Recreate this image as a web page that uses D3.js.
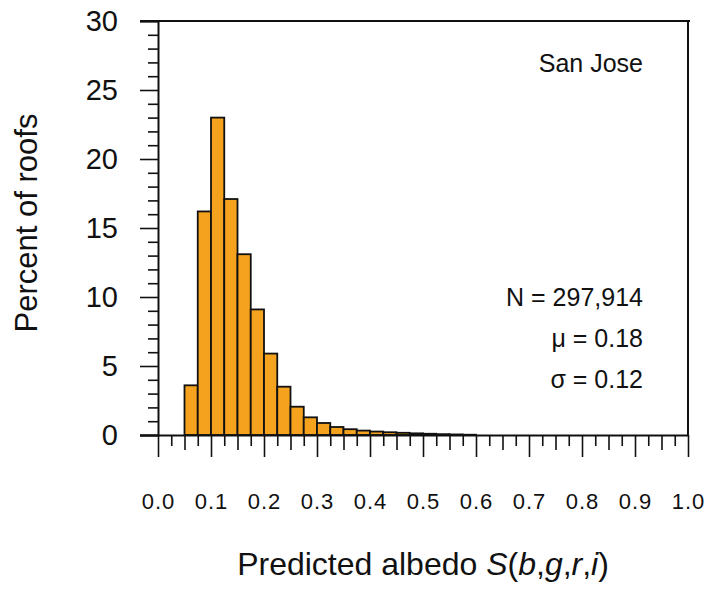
<!DOCTYPE html>
<html>
<head>
<meta charset="utf-8">
<script src="https://cdn.jsdelivr.net/npm/d3@7"></script>
<style>
  body { margin: 0; background: #fff; }
  svg text { font-family: "Liberation Sans", Arial, Helvetica, sans-serif; fill: #111; }
</style>
</head>
<body>
<div id="chart"></div>
<script>
// histogram bins (left edges) and percent of roofs in each bin, width 0.025
var binStarts = [0.05, 0.075, 0.1, 0.125, 0.15, 0.175, 0.2, 0.225, 0.25, 0.275,
  0.3, 0.325, 0.35, 0.375, 0.4, 0.425, 0.45, 0.475, 0.5, 0.525, 0.55, 0.575];
var percents = [3.6, 16.2, 23.0, 17.1, 13.1, 9.1, 5.9, 3.5, 2.05, 1.28,
  0.87, 0.58, 0.42, 0.32, 0.25, 0.2, 0.16, 0.12, 0.09, 0.06, 0.04, 0.02];
var binWidth = 0.025;

var yTickValues = [0, 5, 10, 15, 20, 25, 30];
var xTickValues = [0, 0.1, 0.2, 0.3, 0.4, 0.5, 0.6, 0.7, 0.8, 0.9, 1.0];
var statLines = ["N = 297,914", "\u03bc = 0.18", "\u03c3 = 0.12"];
var cityLabel = "San Jose";

var width = 709, height = 591;
var svg = d3.select("#chart").append("svg")
  .attr("width", width)
  .attr("height", height);

var x = d3.scaleLinear().domain([0, 1]).range([158, 688]);
var y = d3.scaleLinear().domain([0, 30]).range([435, 21]);

// bars
svg.selectAll("rect.bar")
  .data(binStarts)
  .enter().append("rect")
  .attr("class", "bar")
  .attr("x", function(d) { return x(d); })
  .attr("width", function(d) { return x(d + binWidth) - x(d); })
  .attr("y", function(d, i) { return y(percents[i]); })
  .attr("height", function(d, i) { return y(0) - y(percents[i]); })
  .attr("fill", "#f5a31f")
  .attr("stroke", "#111")
  .attr("stroke-width", 1.8);

// frame: top and right
svg.append("line").attr("x1", 140).attr("x2", x(1) + 2).attr("y1", y(30)).attr("y2", y(30))
  .attr("stroke", "#111").attr("stroke-width", 2);
svg.append("line").attr("x1", x(1)).attr("x2", x(1)).attr("y1", y(30)).attr("y2", y(0))
  .attr("stroke", "#111").attr("stroke-width", 2);

// y axis minor ticks
var yMinor = d3.range(0, 31, 1).filter(function(v) { return v % 5 !== 0; });
svg.append("g")
  .attr("transform", "translate(" + x(0) + ",0)")
  .call(d3.axisLeft(y).tickValues(yMinor).tickSize(10).tickFormat(""))
  .call(function(g) { g.select(".domain").remove(); });

// y axis major
var yAxis = svg.append("g")
  .attr("transform", "translate(" + x(0) + ",0)")
  .call(d3.axisLeft(y).tickValues(yTickValues).tickSize(18).tickPadding(22));
yAxis.selectAll("text").style("font-size", "29px").attr("fill", "#111");

// x axis minor ticks (0.025 and 0.05)
var xQuarter = d3.range(0, 41).map(function(i) { return i * 0.025; })
  .filter(function(v, i) { return i % 2 === 1; });
var xHalf = d3.range(0, 10).map(function(i) { return i * 0.1 + 0.05; });
svg.append("g")
  .attr("transform", "translate(0," + y(0) + ")")
  .call(d3.axisBottom(x).tickValues(xQuarter).tickSize(11).tickFormat(""))
  .call(function(g) { g.select(".domain").remove(); });
svg.append("g")
  .attr("transform", "translate(0," + y(0) + ")")
  .call(d3.axisBottom(x).tickValues(xHalf).tickSize(15).tickFormat(""))
  .call(function(g) { g.select(".domain").remove(); });

var xAxis = svg.append("g")
  .attr("transform", "translate(0," + y(0) + ")")
  .call(d3.axisBottom(x).tickValues(xTickValues).tickSize(22).tickPadding(36)
    .tickFormat(d3.format(".1f")));
xAxis.selectAll("text").style("font-size", "22px").style("letter-spacing", "1px").attr("fill", "#111");
xAxis.select(".domain").attr("d", "M140,0.5H" + x(1));

svg.selectAll(".tick line").attr("stroke", "#111").attr("stroke-width", 1.6);
svg.selectAll(".domain").attr("stroke", "#111").attr("stroke-width", 2);

// axis titles
svg.append("text")
  .attr("transform", "translate(37,223) rotate(-90)")
  .attr("text-anchor", "middle")
  .style("font-size", "31px")
  .text("Percent of roofs");

var xt = svg.append("text")
  .attr("x", 423)
  .attr("y", 575)
  .attr("text-anchor", "middle")
  .style("font-size", "32px");
xt.append("tspan").text("Predicted albedo ");
[["S", true], ["(", false], ["b", true], [",", false], ["g", true], [",", false],
 ["r", true], [",", false], ["i", true], [")", false]].forEach(function(p) {
  xt.append("tspan").style("font-style", p[1] ? "italic" : "normal").text(p[0]);
});

// annotations
svg.append("text")
  .attr("x", 643).attr("y", 72)
  .attr("text-anchor", "end")
  .style("font-size", "25px")
  .text(cityLabel);

svg.selectAll("text.stat")
  .data(statLines)
  .enter().append("text")
  .attr("class", "stat")
  .attr("x", 643)
  .attr("y", function(d, i) { return 306 + i * 41; })
  .attr("text-anchor", "end")
  .style("font-size", "25px")
  .text(function(d) { return d; });
</script>
</body>
</html>
